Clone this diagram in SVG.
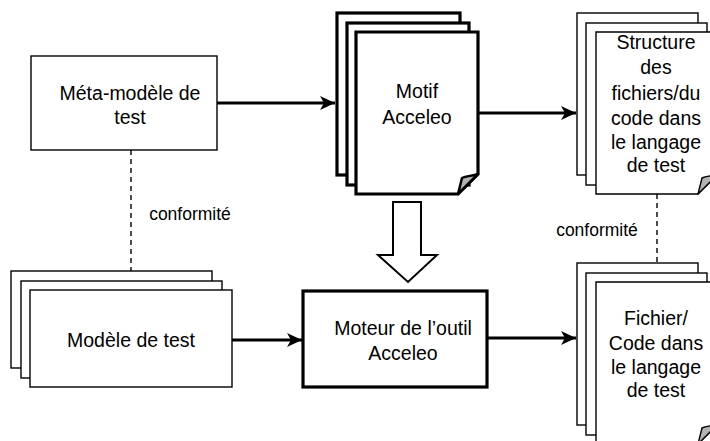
<svg xmlns="http://www.w3.org/2000/svg" width="710" height="441" viewBox="0 0 710 441">
<style>
text{font-family:"Liberation Sans",Arial,sans-serif;font-size:19.5px;fill:#000;text-anchor:middle}
.lbl{font-size:17.5px}
.thin{fill:#fff;stroke:#000;stroke-width:1.4}
.thick{fill:#fff;stroke:#000;stroke-width:3.2}
.fold{fill:#b3b3b3;stroke:#000;stroke-linejoin:round}
.conn{fill:none;stroke:#000;stroke-width:3}
.dash{fill:none;stroke:#000;stroke-width:1.4;stroke-dasharray:5 4}
</style>
<defs>
<marker id="ah" markerUnits="userSpaceOnUse" markerWidth="18" markerHeight="16" refX="15" refY="7" orient="auto">
<path d="M0,0 L15,7 L0,14 L4,7 Z" fill="#000"/>
</marker>
</defs>
<g id="connectors">
<line class="conn" x1="217" y1="103" x2="335" y2="103" marker-end="url(#ah)"/>
<line class="conn" x1="479" y1="113" x2="576" y2="113" marker-end="url(#ah)"/>
<line class="conn" x1="232" y1="340" x2="302" y2="340" marker-end="url(#ah)"/>
<line class="conn" x1="488" y1="338" x2="576" y2="338" marker-end="url(#ah)"/>
<line class="dash" x1="131" y1="150" x2="131" y2="271"/>
<line class="dash" x1="657" y1="194" x2="657" y2="263"/>
<path d="M393,202 H421 V255 H437 L408,282 L378,255 H393 Z" fill="#fff" stroke="#000" stroke-width="2"/>
<text class="lbl" x="190" y="220">conformité</text>
<text class="lbl" x="597" y="236">conformité</text>
</g>
<g id="meta">
<rect class="thin" x="31" y="56" width="186" height="94"/>
<text x="130" y="100">Méta-modèle de</text>
<text x="130" y="124">test</text>
</g>
<g id="motif">
<rect class="thick" x="337" y="13" width="123" height="162"/>
<rect class="thick" x="347" y="23" width="122" height="162"/>
<path class="thick" d="M356,32 H478 V174 L458,194 H356 Z"/>
<path class="fold" stroke-width="2.5" d="M478,174 C472,176 466,176 462,178 L458,194 Z"/>
<text x="417" y="98">Motif</text>
<text x="417" y="124">Acceleo</text>
</g>
<g id="structure">
<rect class="thin" x="577" y="13" width="121" height="162"/>
<rect class="thin" x="586" y="23" width="121" height="162"/>
<path class="thin" d="M596,32 H718 V174 L698,194 H596 Z"/>
<path class="fold" stroke-width="1.4" d="M718,174 C712,176 706,176 702,178 L698,194 Z"/>
<text x="656" y="49">Structure</text>
<text x="656" y="74">des</text>
<text x="656" y="100">fichiers/du</text>
<text x="656" y="125">code dans</text>
<text x="656" y="149">le langage</text>
<text x="656" y="172">de test</text>
</g>
<g id="modele">
<rect class="thin" x="11" y="271" width="201" height="97"/>
<rect class="thin" x="21" y="281" width="201" height="97"/>
<rect class="thin" x="30" y="290" width="202" height="97"/>
<text x="131" y="347">Modèle de test</text>
</g>
<g id="moteur">
<rect class="thick" x="303" y="291" width="184" height="96"/>
<text x="403" y="335">Moteur de l’outil</text>
<text x="403" y="360">Acceleo</text>
</g>
<g id="fichier">
<rect class="thin" x="577" y="263" width="121" height="162"/>
<rect class="thin" x="586" y="273" width="121" height="162"/>
<path class="thin" d="M596,282 H718 V424 L698,444 H596 Z"/>
<path class="fold" stroke-width="1.4" d="M718,424 C712,426 706,426 702,428 L698,444 Z"/>
<text x="656" y="325">Fichier/</text>
<text x="656" y="350">Code dans</text>
<text x="656" y="374">le langage</text>
<text x="656" y="397">de test</text>
</g>
</svg>
